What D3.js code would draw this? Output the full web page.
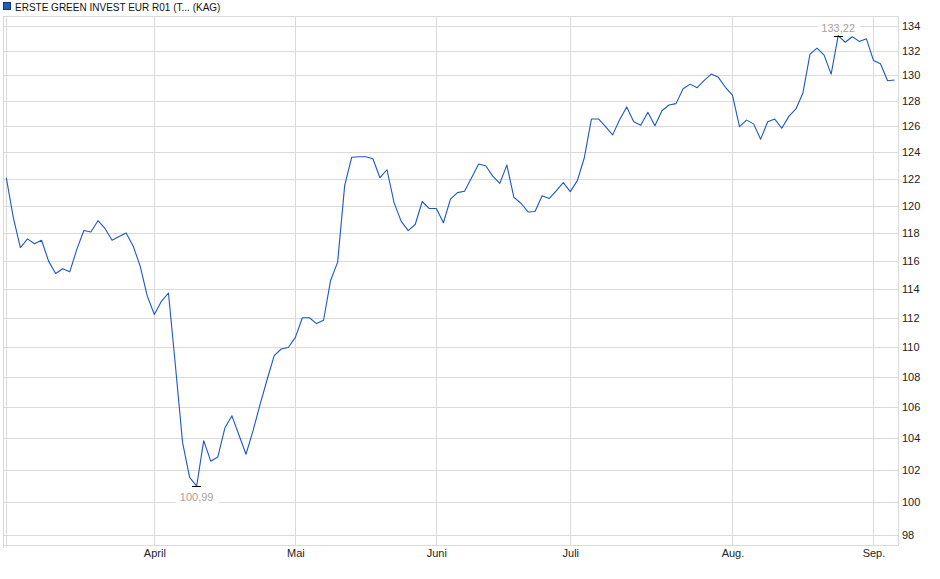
<!DOCTYPE html>
<html>
<head>
<meta charset="utf-8">
<script src="https://cdn.jsdelivr.net/npm/d3@7"></script>
<style>
  html, body { margin: 0; padding: 0; background: #fff; }
  svg { display: block; font-family: "Liberation Sans", Arial, sans-serif; }
  .grid line { stroke: #dadada; stroke-width: 1; shape-rendering: crispEdges; }
  .ylabel, .xlabel { font-size: 11px; fill: #222; }
  .extreme { font-size: 11px; fill: #a7a19a; }
</style>
</head>
<body>
<div class="vis"></div>
<script>
// fund name for the legend
var seriesName = "ERSTE GREEN INVEST EUR R01 (T... (KAG)";

// closing prices, one per trading day (early March to early September)
var prices = [
  122.07, 119.1, 116.93, 117.57, 117.21, 117.47, 115.97, 115.09, 115.43, 115.21,
  116.81, 118.17, 118.07, 118.89, 118.32, 117.47, 117.74, 118.0, 117.04, 115.6,
  113.5, 112.23, 113.14, 113.72, 108.7, 103.74, 101.53, 100.99, 103.85, 102.55,
  102.81, 104.66, 105.45, 104.21, 102.99, 104.49, 106.2, 107.83, 109.42, 109.87,
  109.97, 110.66, 112.0, 112.0, 111.6, 111.83, 114.6, 115.9, 121.5, 123.62,
  123.66, 123.66, 123.5, 122.07, 122.67, 120.22, 118.86, 118.17, 118.61, 120.3,
  119.78, 119.78, 118.74, 120.47, 120.96, 121.06, 122.07, 123.1, 122.97, 122.19,
  121.65, 123.02, 120.6, 120.17, 119.53, 119.56, 120.72, 120.52, 121.08, 121.7,
  121.03, 121.85, 123.6, 126.56, 126.56, 125.97, 125.33, 126.5, 127.5, 126.34,
  126.08, 127.08, 126.03, 127.2, 127.65, 127.76, 128.93, 129.3, 129.02, 129.6,
  130.1, 129.84, 129.05, 128.43, 125.97, 126.47, 126.18, 125.0, 126.34, 126.55,
  125.84, 126.76, 127.34, 128.6, 131.7, 132.2, 131.63, 130.1, 133.22, 132.67,
  133.12, 132.74, 132.95, 131.2, 130.93, 129.57, 129.63
];

// first trading day of each month (index into prices) and its label
var monthStarts = [0, 21, 41, 61, 80, 103, 123];
var monthLabels = ["März", "April", "Mai", "Juni", "Juli", "Aug.", "Sep."];

// right axis ticks
var yTicks = [98, 100, 102, 104, 106, 108, 110, 112, 114, 116, 118, 120, 122, 124, 126, 128, 130, 132, 134];
var yDomain = [97.4, 134.83];

var chart = {

  box: { left: 3, right: 898, top: 16, bottom: 545 },

  setUp: function(){
    chart.svg = d3.select(".vis")
      .append("svg")
        .attr("width", 940)
        .attr("height", 579);

    chart.x = d3.scaleLinear()
      .domain([0, prices.length - 1])
      .range([6.3, 894.6]);

    chart.y = d3.scaleLog()
      .domain(yDomain)
      .range([chart.box.bottom, chart.box.top]);

    chart.drawGrid();
    chart.drawAxes();
    chart.drawLine();
    chart.drawExtremes();
    chart.drawLegend();
  },

  drawGrid: function(){
    var b = chart.box;
    var g = chart.svg.append("g").attr("class", "grid");

    g.selectAll("line.h")
      .data(yTicks)
      .enter()
      .append("line")
        .attr("class", "h")
        .attr("x1", b.left).attr("x2", b.right)
        .attr("y1", function(d){ return Math.round(chart.y(d)) + 0.5; })
        .attr("y2", function(d){ return Math.round(chart.y(d)) + 0.5; });

    g.selectAll("line.v")
      .data(monthStarts)
      .enter()
      .append("line")
        .attr("class", "v")
        .attr("x1", function(d){ return Math.round(chart.x(d)) + 0.5; })
        .attr("x2", function(d){ return Math.round(chart.x(d)) + 0.5; })
        .attr("y1", b.top)
        .attr("y2", function(d, i){ return i === 0 ? b.bottom + 3 : b.bottom; });

    // frame
    g.append("line").attr("x1", b.left + 0.5).attr("x2", b.left + 0.5).attr("y1", b.top).attr("y2", b.bottom + 3);
    g.append("line").attr("x1", b.right + 0.5).attr("x2", b.right + 0.5).attr("y1", b.top).attr("y2", b.bottom);
    g.append("line").attr("x1", b.left).attr("x2", b.right).attr("y1", b.top + 0.5).attr("y2", b.top + 0.5);
    g.append("line").attr("x1", b.left).attr("x2", b.right + 1).attr("y1", b.bottom + 0.5).attr("y2", b.bottom + 0.5);
  },

  drawAxes: function(){
    chart.svg.append("g")
      .selectAll("text")
      .data(yTicks)
      .enter()
      .append("text")
        .attr("class", "ylabel")
        .attr("x", 902)
        .attr("y", function(d){ return chart.y(d) + 4; })
        .text(function(d){ return d; });

    // March label sits on the frame edge and is left out, as in the source chart
    chart.svg.append("g")
      .selectAll("text")
      .data(monthStarts.slice(1))
      .enter()
      .append("text")
        .attr("class", "xlabel")
        .attr("text-anchor", "middle")
        .attr("x", function(d){ return chart.x(d) + 0.5; })
        .attr("y", 557)
        .text(function(d, i){ return monthLabels[i + 1]; });
  },

  drawLine: function(){
    var line = d3.line()
      .x(function(d, i){ return chart.x(i); })
      .y(function(d){ return chart.y(d); });

    chart.svg.append("path")
      .datum(prices)
      .attr("fill", "none")
      .attr("stroke", "#1c58c4")
      .attr("stroke-width", 1.1)
      .attr("stroke-linejoin", "round")
      .attr("d", line);
  },

  drawExtremes: function(){
    var lo = d3.minIndex(prices);
    var hi = d3.maxIndex(prices);
    var fmt = function(v){ return v.toFixed(2).replace(".", ","); };

    var marks = [
      { i: lo, v: prices[lo], dy: 14 },
      { i: hi, v: prices[hi], dy: -5 }
    ];

    var g = chart.svg.append("g");

    marks.forEach(function(m){
      var px = chart.x(m.i), py = Math.round(chart.y(m.v)) + 0.5;
      var label = g.append("g");
      label.append("rect")
        .attr("x", px - 21).attr("y", py + m.dy - 10)
        .attr("width", 43).attr("height", 13)
        .attr("fill", "#fff")
        .attr("fill-opacity", 0.85);
      label.append("text")
        .attr("class", "extreme")
        .attr("text-anchor", "middle")
        .attr("x", px)
        .attr("y", py + m.dy)
        .text(fmt(m.v));
      g.append("line")
        .attr("x1", px - 4.5).attr("x2", px + 4.5)
        .attr("y1", py).attr("y2", py)
        .attr("stroke", "#000")
        .attr("stroke-width", 1)
        .attr("shape-rendering", "crispEdges");
    });
  },

  drawLegend: function(){
    chart.svg.append("rect")
      .attr("x", 3.5).attr("y", 2.5)
      .attr("width", 7).attr("height", 7)
      .attr("fill", "#1f5bc4")
      .attr("stroke", "#17356e")
      .attr("stroke-width", 1);

    chart.svg.append("text")
      .attr("x", 15)
      .attr("y", 10.5)
      .attr("font-size", "10px")
      .attr("fill", "#111")
      .text(seriesName);
  }
};

chart.setUp();
</script>
</body>
</html>
